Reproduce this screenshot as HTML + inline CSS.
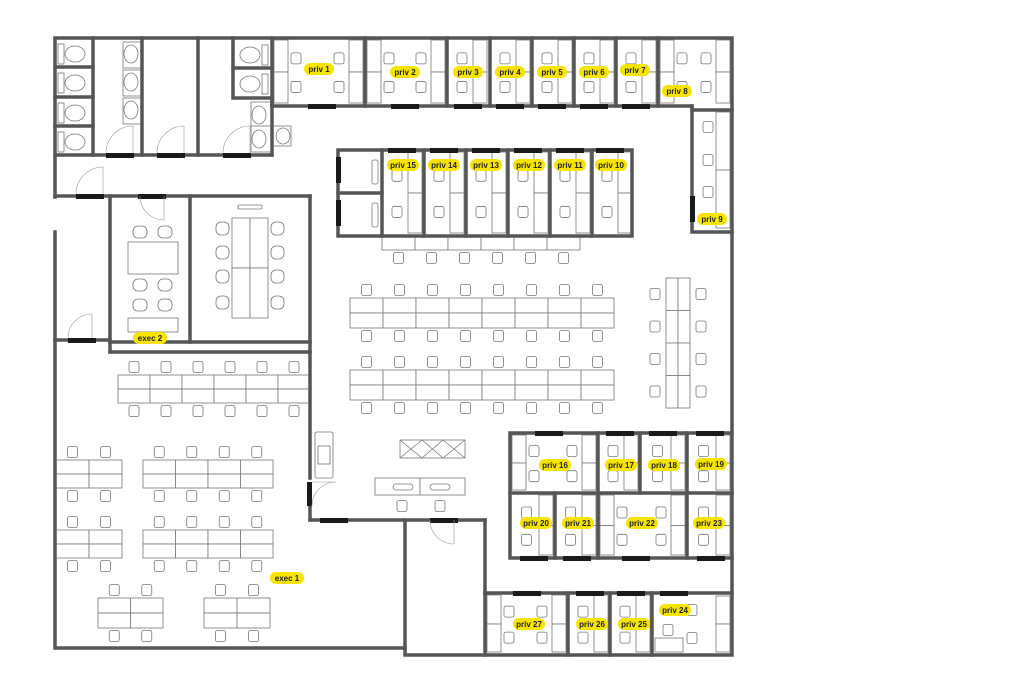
<!DOCTYPE html>
<html><head><meta charset="utf-8"><style>
html,body{margin:0;padding:0;background:#fff;}
svg{display:block;}
.lbl{font-family:"Liberation Sans",sans-serif;font-size:8px;font-weight:bold;fill:#222;text-anchor:middle;}
</style></head><body>
<svg id="s" width="1024" height="684" viewBox="0 0 1024 684" xmlns="http://www.w3.org/2000/svg">
<g id="fur" fill="#fff" stroke="#777" stroke-width="0.8"></g>
<g id="walls" stroke="#555" stroke-width="3.5" fill="none" stroke-linecap="square">
<polyline points="55,197 55,38 732,38 732,655 405,655 405,520"/>
<polyline points="55,232 55,648 405,648"/>
<line x1="55" y1="155" x2="272" y2="155"/>
<line x1="55" y1="196" x2="310" y2="196"/>
<line x1="93" y1="38" x2="93" y2="155"/>
<line x1="55" y1="67" x2="93" y2="67"/><line x1="55" y1="97" x2="93" y2="97"/><line x1="55" y1="126" x2="93" y2="126"/>
<line x1="142" y1="38" x2="142" y2="155"/>
<line x1="198" y1="38" x2="198" y2="155"/>
<polyline points="233,38 233,98 272,98 272,155"/>
<line x1="233" y1="68" x2="272" y2="68"/>
<line x1="110" y1="196" x2="110" y2="352"/>
<line x1="190" y1="196" x2="190" y2="342"/>
<line x1="110" y1="342" x2="310" y2="342"/>
<line x1="55" y1="340" x2="110" y2="340"/>
<line x1="110" y1="352" x2="310" y2="352"/>
<line x1="310" y1="196" x2="310" y2="478"/>
<line x1="310" y1="506" x2="310" y2="520"/>
<line x1="310" y1="520" x2="485" y2="520"/>
<line x1="485" y1="520" x2="485" y2="593"/>
<line x1="272" y1="106" x2="692" y2="106"/>
<line x1="272" y1="38" x2="272" y2="106"/>
<line x1="365" y1="38" x2="365" y2="106"/>
<line x1="447" y1="38" x2="447" y2="106"/>
<line x1="490" y1="38" x2="490" y2="106"/>
<line x1="532" y1="38" x2="532" y2="106"/>
<line x1="574" y1="38" x2="574" y2="106"/>
<line x1="616" y1="38" x2="616" y2="106"/>
<line x1="658" y1="38" x2="658" y2="106"/>
<polyline points="692,106 692,110 692,232 732,232"/>
<line x1="692" y1="110" x2="732" y2="110"/>
<rect x="338" y="150" width="294" height="86"/>
<line x1="338" y1="193" x2="382" y2="193"/>
<line x1="382" y1="150" x2="382" y2="236"/><line x1="424" y1="150" x2="424" y2="236"/>
<line x1="466" y1="150" x2="466" y2="236"/><line x1="508" y1="150" x2="508" y2="236"/>
<line x1="550" y1="150" x2="550" y2="236"/><line x1="592" y1="150" x2="592" y2="236"/>
<polyline points="732,433 510,433 510,558 732,558"/>
<line x1="510" y1="493" x2="732" y2="493"/>
<line x1="598" y1="433" x2="598" y2="558"/>
<line x1="640" y1="433" x2="640" y2="493"/>
<line x1="687" y1="433" x2="687" y2="558"/>
<line x1="555" y1="493" x2="555" y2="558"/>
<line x1="485" y1="593" x2="732" y2="593"/>
<line x1="485" y1="593" x2="485" y2="655"/>
<line x1="568" y1="593" x2="568" y2="655"/>
<line x1="610" y1="593" x2="610" y2="655"/>
<line x1="652" y1="593" x2="652" y2="655"/>
</g>
<g id="doors" fill="#1a1a1a"></g>
<g>
<rect x="304" y="63" width="30" height="12" rx="6" fill="#f7e400"/><text class="lbl" x="319" y="72">priv 1</text>
<rect x="390" y="66" width="30" height="12" rx="6" fill="#f7e400"/><text class="lbl" x="405" y="75">priv 2</text>
<rect x="453" y="66" width="30" height="12" rx="6" fill="#f7e400"/><text class="lbl" x="468" y="75">priv 3</text>
<rect x="495" y="66" width="30" height="12" rx="6" fill="#f7e400"/><text class="lbl" x="510" y="75">priv 4</text>
<rect x="537" y="66" width="30" height="12" rx="6" fill="#f7e400"/><text class="lbl" x="552" y="75">priv 5</text>
<rect x="579" y="66" width="30" height="12" rx="6" fill="#f7e400"/><text class="lbl" x="594" y="75">priv 6</text>
<rect x="620" y="64" width="30" height="12" rx="6" fill="#f7e400"/><text class="lbl" x="635" y="73">priv 7</text>
<rect x="662" y="85" width="30" height="12" rx="6" fill="#f7e400"/><text class="lbl" x="677" y="94">priv 8</text>
<rect x="697" y="213" width="30" height="12" rx="6" fill="#f7e400"/><text class="lbl" x="712" y="222">priv 9</text>
<rect x="387" y="159" width="32" height="12" rx="6" fill="#f7e400"/><text class="lbl" x="403" y="168">priv 15</text>
<rect x="428" y="159" width="32" height="12" rx="6" fill="#f7e400"/><text class="lbl" x="444" y="168">priv 14</text>
<rect x="470" y="159" width="32" height="12" rx="6" fill="#f7e400"/><text class="lbl" x="486" y="168">priv 13</text>
<rect x="513" y="159" width="32" height="12" rx="6" fill="#f7e400"/><text class="lbl" x="529" y="168">priv 12</text>
<rect x="554" y="159" width="32" height="12" rx="6" fill="#f7e400"/><text class="lbl" x="570" y="168">priv 11</text>
<rect x="595" y="159" width="32" height="12" rx="6" fill="#f7e400"/><text class="lbl" x="611" y="168">priv 10</text>
<rect x="133" y="332" width="34" height="12" rx="6" fill="#f7e400"/><text class="lbl" x="150" y="341">exec 2</text>
<rect x="270" y="572" width="34" height="12" rx="6" fill="#f7e400"/><text class="lbl" x="287" y="581">exec 1</text>
<rect x="539" y="459" width="32" height="12" rx="6" fill="#f7e400"/><text class="lbl" x="555" y="468">priv 16</text>
<rect x="605" y="459" width="32" height="12" rx="6" fill="#f7e400"/><text class="lbl" x="621" y="468">priv 17</text>
<rect x="648" y="459" width="32" height="12" rx="6" fill="#f7e400"/><text class="lbl" x="664" y="468">priv 18</text>
<rect x="695" y="458" width="32" height="12" rx="6" fill="#f7e400"/><text class="lbl" x="711" y="467">priv 19</text>
<rect x="520" y="517" width="32" height="12" rx="6" fill="#f7e400"/><text class="lbl" x="536" y="526">priv 20</text>
<rect x="562" y="517" width="32" height="12" rx="6" fill="#f7e400"/><text class="lbl" x="578" y="526">priv 21</text>
<rect x="626" y="517" width="32" height="12" rx="6" fill="#f7e400"/><text class="lbl" x="642" y="526">priv 22</text>
<rect x="693" y="517" width="32" height="12" rx="6" fill="#f7e400"/><text class="lbl" x="709" y="526">priv 23</text>
<rect x="513" y="618" width="32" height="12" rx="6" fill="#f7e400"/><text class="lbl" x="529" y="627">priv 27</text>
<rect x="576" y="618" width="32" height="12" rx="6" fill="#f7e400"/><text class="lbl" x="592" y="627">priv 26</text>
<rect x="618" y="618" width="32" height="12" rx="6" fill="#f7e400"/><text class="lbl" x="634" y="627">priv 25</text>
<rect x="659" y="604" width="32" height="12" rx="6" fill="#f7e400"/><text class="lbl" x="675" y="613">priv 24</text>
</g>
</svg>
<script>
var NS="http://www.w3.org/2000/svg";
var fur=document.getElementById('fur'),doors=document.getElementById('doors');
function el(p,t,a){var e=document.createElementNS(NS,t);for(var k in a)e.setAttribute(k,a[k]);p.appendChild(e);return e;}
function r(x,y,w,h,rx){el(fur,'rect',{x:x,y:y,width:w,height:h,rx:rx||0});}
function ch(x,y){r(x-5,y-5.5,10,11,2);}
function d(x,y,w,h){el(doors,'rect',{x:x,y:y,width:w,height:h});}
[[106,153],[157,153],[223,153],[76,194],[138,194],[68,338],[320,518],[430,518],[308,104],[391,104],[454,104],[496,104],[538,104],[580,104],[622,104],[388,148],[430,148],[472,148],[514,148],[556,148],[596,148],[535,431],[606,431],[649,431],[696,431],[520,556],[563,556],[622,556],[697,556],[513,591],[576,591],[617,591],[660,591]].forEach(function(p){d(p[0],p[1],28,5);});
d(336,157,5,26);d(336,200,5,26);d(690,196,5,26);d(307,482,5,24);
var arcs=el(document.getElementById('s'),'g',{fill:'none',stroke:'#999','stroke-width':0.6});
[[106,153,133],[157,153,184],[223,153,250],[76,194,103]].forEach(function(a){el(arcs,'path',{d:'M'+a[0]+' '+a[1]+' A27 27 0 0 1 '+a[2]+' '+(a[1]-27)+' V'+a[1]});});
el(arcs,'path',{d:'M140 196 A24 24 0 0 0 164 220 V196'});
el(arcs,'path',{d:'M68 338 A24 24 0 0 1 92 314 V338'});
el(arcs,'path',{d:'M430 520 A24 24 0 0 0 454 544 V520'});
el(arcs,'path',{d:'M312 506 A24 24 0 0 1 336 482 H312'});
[40,69,99,128].forEach(function(y){r(58,y+4,6,20);el(fur,'ellipse',{cx:75,cy:y+14,rx:10,ry:8});});
[41,70].forEach(function(y){r(262,y+4,6,20);el(fur,'ellipse',{cx:250,cy:y+14,rx:10,ry:8});});
[40,68,96].forEach(function(y){r(123,y+2,18,26);el(fur,'ellipse',{cx:131,cy:y+14,rx:7,ry:9});});
[102,126].forEach(function(y){r(251,y,20,26);el(fur,'ellipse',{cx:259,cy:y+13,rx:7,ry:9});});
r(273,126,18,20);el(fur,'ellipse',{cx:283,cy:136,rx:7,ry:8});
function priv(x0,x1,y0,y1,twoSide){
  var w=x1-x0,h=y1-y0;
  r(x1-16,y0+2,14,h/2-2);r(x1-16,y0+h/2,14,h/2-3);
  if(twoSide){r(x0+2,y0+2,14,h/2-2);r(x0+2,y0+h/2,14,h/2-3);ch(x0+24,y0+h*0.3);ch(x0+24,y0+h*0.72);ch(x1-26,y0+h*0.3);ch(x1-26,y0+h*0.72);}
  else{var cx=x0+(w-16)/2+2;ch(cx,y0+h*0.3);ch(cx,y0+h*0.72);}
}
priv(272,365,38,106,true);priv(365,447,38,106,true);
[447,490,532,574,616].forEach(function(x){priv(x,x+42,38,106);});
priv(658,732,38,106,true);
r(716,112,14,58);r(716,170,14,58);ch(708,127);ch(708,160);ch(708,192);
[382,424,466,508,550,592].forEach(function(x){priv(x,x+42,150,236);});
r(372,160,6,24,2);r(372,203,6,24,2);
priv(510,598,433,493,true);priv(598,640,433,493);priv(640,687,433,493);priv(687,732,433,493);
priv(510,555,493,558);priv(555,598,493,558);priv(598,687,493,558,true);priv(687,732,493,558);
priv(485,568,593,655,true);priv(568,610,593,655);priv(610,652,593,655);
r(716,596,14,28);r(716,624,14,28);ch(692,610);ch(692,638);r(655,638,28,14);ch(668,630);
function desks(x,y,n,w,h,rows,chTop,chBot){
  for(var j=0;j<rows;j++)for(var i=0;i<n;i++)r(x+i*w,y+j*h,w,h);
  for(var i=0;i<n;i++){var cx=x+i*w+w/2;if(chTop)ch(cx,y-8);if(chBot)ch(cx,y+rows*h+8);}
}
desks(382,236,6,33,14,1,false,true);
desks(350,298,8,33,15,2,true,true);
desks(350,370,8,33,15,2,true,true);
desks(118,375,6,32,14,2,true,true);
desks(56,460,2,33,14,2,true,true);desks(143,460,4,32.5,14,2,true,true);
desks(56,530,2,33,14,2,true,true);desks(143,530,4,32.5,14,2,true,true);
desks(98,598,2,32.5,15,2,true,true);desks(204,598,2,33,15,2,true,true);
for(var i=0;i<4;i++){r(666,278+i*32.5,12,32.5);r(678,278+i*32.5,12,32.5);ch(655,294+i*32.5);ch(701,294+i*32.5);}
r(128,242,50,32);
[[140,232],[165,232],[140,285],[165,285],[140,305],[165,305]].forEach(function(p){r(p[0]-7,p[1]-6,14,12,5);});
r(128,318,50,14);
r(232,218,18,50);r(250,218,18,50);r(232,268,18,50);r(250,268,18,50);
[228,252,276,302].forEach(function(y){r(216,y-6,13,13,5);r(271,y-6,13,13,5);});
r(238,205,24,4,1);
r(400,440,65,18);el(fur,'path',{d:'M400 440 L422 458 M422 440 L400 458 M422 440 L443 458 M443 440 L422 458 M443 440 L465 458 M465 440 L443 458'});
r(375,478,45,17);r(420,478,45,17);r(393,484,20,6,3);r(430,484,20,6,3);ch(402,506);ch(440,506);
r(315,432,18,46,2);r(318,446,12,18);
</script>
</body></html>
